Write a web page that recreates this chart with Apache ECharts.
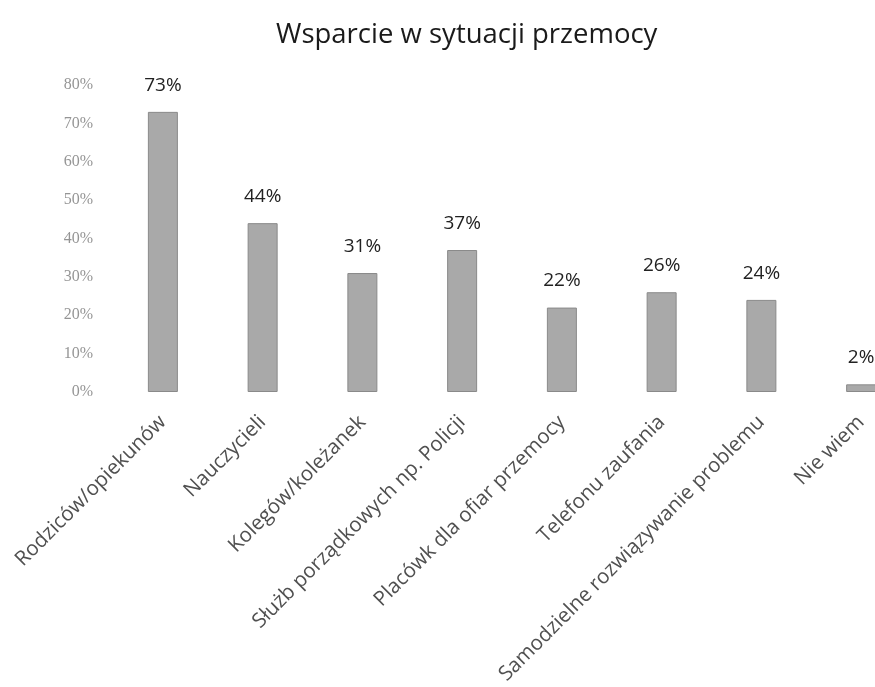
<!DOCTYPE html>
<html>
<head>
<meta charset="utf-8">
<script src="https://cdn.jsdelivr.net/npm/echarts@6/dist/echarts.min.js"></script>
<style>
  html, body { margin: 0; padding: 0; background: #fff; }
  #chart { width: 875px; height: 687px; }
</style>
</head>
<body>
<div id="chart"></div>
<script>
// Wsparcie w sytuacji przemocy - bar chart

const categories = [
  "Rodziców/opiekunów",
  "Nauczycieli",
  "Kolegów/koleżanek",
  "Służb porządkowych np. Policji",
  "Placówk dla ofiar przemocy",
  "Telefonu zaufania",
  "Samodzielne rozwiązywanie problemu",
  "Nie wiem"
];
const values = [73, 44, 31, 37, 22, 26, 24, 2];

const chart = echarts.init(document.getElementById("chart"), undefined, {
  renderer: "canvas",
});

const option = {
  animation: false,
  title: {
    text: "Wsparcie w sytuacji przemocy",
    left: 271,
    top: 16,
    textStyle: {
      fontFamily: "Open Sans",
      fontSize: 27.5,
      fontWeight: "normal",
      color: "#1a1a1a",
    },
  },
  grid: {
    left: 113,
    width: 798,
    top: 85,
    bottom: 295,
    containLabel: false,
    outerBoundsMode: "none",
  },
  xAxis: {
    type: "category",
    data: categories,
    axisLine: { show: false },
    axisTick: { show: false },
    axisLabel: {
      rotate: 45,
      interval: 0,
      margin: 27,
      fontFamily: "Open Sans",
      fontSize: 20.5,
      color: "#505050",
    },
  },
  yAxis: {
    type: "value",
    min: 0,
    max: 80,
    interval: 10,
    splitLine: { show: false },
    axisLine: { show: false },
    axisTick: { show: false },
    axisLabel: {
      formatter: "{value}%",
      margin: 20,
      fontFamily: "Liberation Serif",
      fontSize: 16,
      color: "#959595",
    },
  },
  series: [
    {
      type: "bar",
      data: values,
      barWidth: 30,
      itemStyle: {
        color: "#a9a9a9",
        borderColor: "#8a8a8a",
        borderWidth: 1,
      },
      label: {
        show: true,
        position: "top",
        distance: 17,
        formatter: "{c}%",
        fontFamily: "Open Sans",
        fontSize: 19,
        color: "#222",
      },
    },
  ],
};

chart.setOption(option);
</script>
</body>
</html>
